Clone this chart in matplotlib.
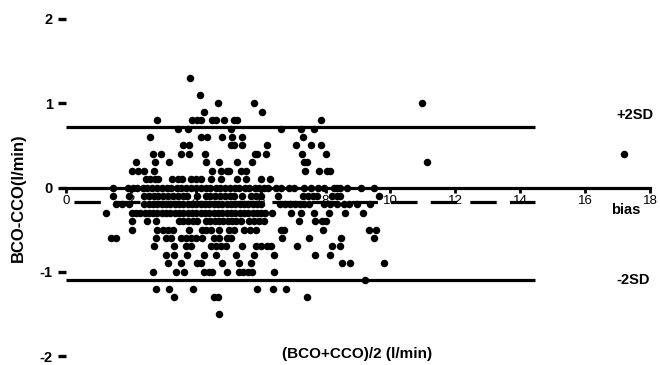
import matplotlib
matplotlib.use("Agg")
import matplotlib.pyplot as plt
import numpy as np

plt.rcParams['font.family'] = ['Liberation Sans', 'DejaVu Sans']

# x = mean (BCO+CCO)/2, grouped by difference level (BCO-CCO)
row_p13 = [3.82]
row_p11 = [4.12]
row_p10 = [4.68, 5.80, 10.97]
row_p09 = [4.25, 6.03]
row_p08 = [2.80, 3.88, 4.05, 4.15, 4.51, 4.62, 4.87, 5.18, 5.28, 7.87]
row_p07 = [3.46, 3.76, 5.08, 6.62, 7.25, 7.64]
row_p06 = [2.59, 4.15, 4.36, 4.80, 5.11, 5.41, 7.29]
row_p05 = [3.62, 3.79, 5.08, 5.18, 5.44, 6.18, 7.08, 7.56, 7.85]
row_p04 = [2.67, 2.92, 3.54, 3.79, 4.28, 5.83, 5.90, 6.15, 7.28, 8.00, 17.2]
row_p03 = [2.15, 2.75, 3.18, 4.31, 4.72, 5.26, 5.72, 7.33, 7.44, 11.13]
row_p02 = [2.03, 2.21, 2.39, 2.72, 4.51, 4.77, 4.95, 5.03, 5.38, 5.54, 7.38,
           7.79, 8.05, 8.15]
row_p01 = [2.46, 2.60, 2.75, 2.85, 3.28, 3.45, 3.59, 3.85, 4.00, 4.15, 4.46,
           4.77, 5.28, 5.54, 6.00, 6.29]
row_000 = [1.44, 1.90, 2.06, 2.19, 2.36, 2.50, 2.66, 2.79, 2.96, 3.10, 3.24,
           3.41, 3.55, 3.71, 3.84, 4.01, 4.15, 4.31, 4.44, 4.61, 4.74, 4.91,
           5.04, 5.21, 5.34, 5.51, 5.64, 5.81, 5.94, 6.11, 6.24, 6.46, 6.64,
           6.86, 7.04, 7.33, 7.55, 7.76, 7.95, 8.25, 8.36, 8.46, 8.67, 9.08,
           9.49]
row_m01 = [1.44, 1.95, 2.41, 2.55, 2.70, 2.85, 3.00, 3.15, 3.30, 3.45, 3.60,
           3.74, 4.05, 4.31, 4.45, 4.60, 4.75, 4.90, 5.05, 5.18, 5.44, 5.69,
           5.85, 6.02, 6.53, 7.30, 7.45, 7.60, 7.74, 8.20, 8.36, 8.46, 9.64]
row_m02 = [1.55, 1.72, 1.95, 2.41, 2.55, 2.68, 2.82, 2.95, 3.08, 3.22, 3.35,
           3.48, 3.62, 3.75, 3.88, 4.02, 4.15, 4.28, 4.42, 4.55, 4.68, 4.82,
           4.95, 5.08, 5.22, 5.35, 5.48, 5.62, 5.75, 5.88, 6.02, 6.60, 6.75,
           6.90, 7.05, 7.20, 7.33, 7.49, 7.95, 8.15, 8.36, 8.56, 8.71, 8.97,
           9.38]
row_m03 = [1.23, 2.02, 2.15, 2.28, 2.42, 2.55, 2.68, 2.82, 2.95, 3.08, 3.22,
           3.35, 3.48, 3.62, 3.75, 3.88, 4.02, 4.15, 4.28, 4.42, 4.55, 4.68,
           4.82, 4.95, 5.08, 5.22, 5.35, 5.48, 5.62, 5.75, 5.90, 6.02, 6.12,
           6.36, 6.92, 7.23, 7.64, 8.10, 8.61, 9.14]
row_m04 = [2.03, 2.49, 2.77, 3.49, 3.62, 3.77, 3.92, 4.05, 4.31, 4.45, 4.58,
           4.72, 4.85, 4.98, 5.12, 5.25, 5.38, 5.64, 5.78, 5.95, 6.10, 7.18,
           7.69, 7.90, 8.02]
row_m05 = [2.02, 2.82, 2.98, 3.15, 3.30, 3.79, 4.20, 4.33, 4.46, 4.72, 5.03,
           5.18, 5.49, 5.66, 5.85, 6.62, 6.72, 7.93, 9.33, 9.54]
row_m06 = [1.40, 1.55, 2.77, 3.08, 3.23, 3.54, 3.70, 3.85, 4.02, 4.20, 4.56,
           4.72, 4.95, 5.08, 6.67, 7.49, 8.48, 9.49]
row_m07 = [2.72, 3.33, 3.69, 3.85, 4.46, 4.62, 4.77, 4.92, 5.44, 5.85, 6.02,
           6.18, 6.31, 7.13, 8.20, 8.44]
row_m08 = [3.08, 3.33, 3.74, 4.26, 4.62, 5.23, 5.80, 6.41, 7.69, 8.15]
row_m09 = [3.13, 3.54, 4.05, 4.15, 4.82, 5.33, 5.69, 8.51, 8.75, 9.81]
row_m10 = [2.67, 3.38, 3.64, 4.26, 4.40, 4.51, 4.97, 5.33, 5.47, 5.60, 5.74,
           6.41]
row_m11 = [9.23]
row_m12 = [2.77, 3.18, 3.90, 5.88, 6.39, 6.77]
row_m13 = [3.33, 4.56, 4.67, 7.44]
row_m15 = [4.72]

diff_levels = [1.3, 1.1, 1.0, 0.9, 0.8, 0.7, 0.6, 0.5, 0.4, 0.3, 0.2, 0.1, 0.0,
               -0.1, -0.2, -0.3, -0.4, -0.5, -0.6, -0.7, -0.8, -0.9, -1.0,
               -1.1, -1.2, -1.3, -1.5]
rows = [row_p13, row_p11, row_p10, row_p09, row_p08, row_p07, row_p06,
        row_p05, row_p04, row_p03, row_p02, row_p01, row_000, row_m01,
        row_m02, row_m03, row_m04, row_m05, row_m06, row_m07, row_m08,
        row_m09, row_m10, row_m11, row_m12, row_m13, row_m15]

upper_sd = 0.72
bias = -0.17
lower_sd = -1.10
line_end = 14.46

x_ticks = [0, 2, 4, 6, 8, 10, 12, 14, 16, 18]
y_ticks = [-2, -1, 0, 1, 2]

fig = plt.figure(figsize=(6.6, 3.65), dpi=100)
ax = fig.add_axes([66/660, 9/365, 584/660, 337/365])

xs = [x for r in rows for x in r]
ys = [lvl for lvl, r in zip(diff_levels, rows) for _ in r]
ax.plot(xs, ys, 'o', color='black', ms=5.4, mew=0, clip_on=False, zorder=3)

lw = 2.3
ax.plot([0, line_end], [upper_sd, upper_sd], color='black', lw=lw,
        solid_capstyle='butt')
ax.plot([0, line_end], [lower_sd, lower_sd], color='black', lw=lw,
        solid_capstyle='butt')
ax.plot([0.25, line_end], [bias, bias], color='black', lw=lw,
        linestyle=(0, (19.0 / lw, 9.5 / lw)), dash_capstyle='butt')

ax.set_xlim(0, 18)
ax.set_ylim(-2, 2)
for s in ['top', 'right', 'left']:
    ax.spines[s].set_visible(False)
ax.spines['bottom'].set_position(('data', 0))
ax.spines['bottom'].set_linewidth(2.3)
ax.spines['bottom'].set_zorder(2)

ax.set_xticks(x_ticks)
ax.set_xticklabels([str(t) for t in x_ticks])
ax.set_yticks(y_ticks)
ax.set_yticklabels([str(t) for t in y_ticks])
ax.tick_params(axis='x', direction='out', length=3.5, width=2, pad=2.0,
               labelsize=9.5)
ax.tick_params(axis='y', direction='out', length=5.5, width=2.4, pad=4,
               labelsize=10.5)
for lab in ax.get_yticklabels():
    lab.set_fontweight('bold')

ax.text(16.95, 0.86, '+2SD', fontsize=10.5, fontweight='bold', ha='left',
        va='center')
ax.text(16.8, -0.27, 'bias', fontsize=10.5, fontweight='bold', ha='left',
        va='center')
ax.text(16.95, -1.10, '-2SD', fontsize=10.5, fontweight='bold', ha='left',
        va='center')

fig.text(282/660, 1 - 354/365, '(BCO+CCO)/2 (l/min)', fontsize=11,
         fontweight='bold', ha='left', va='center')
fig.text(18/660, 1 - 198/365, 'BCO-CCO(l/min)', fontsize=12,
         fontweight='bold', rotation=90, ha='center', va='center')

fig.savefig('out.png', dpi=100)
